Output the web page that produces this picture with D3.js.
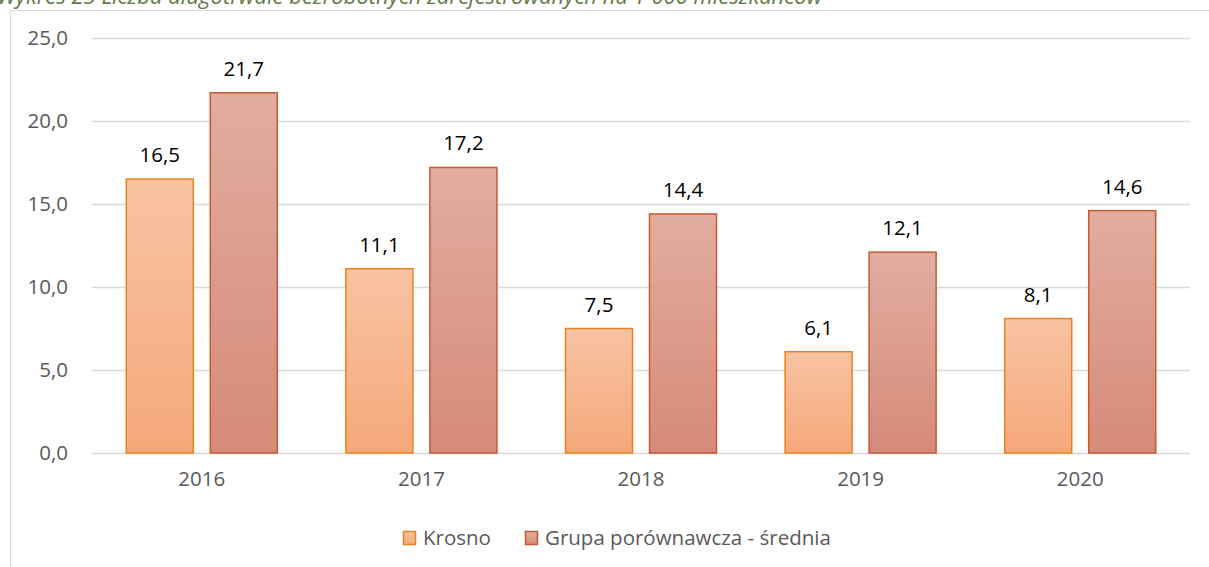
<!DOCTYPE html>
<html>
<head>
<meta charset="utf-8">
<script src="https://cdn.jsdelivr.net/npm/d3@7"></script>
<style>
  body { margin: 0; background: #fff; }
  svg { display: block; font-family: "Open Sans", sans-serif; }
</style>
</head>
<body>
<div id="chart"></div>
<script>
const years = ["2016", "2017", "2018", "2019", "2020"]
const seriesNames = ["Krosno", "Grupa porównawcza - średnia"]
const krosno = [16.5, 11.1, 7.5, 6.1, 8.1]
const grupa = [21.7, 17.2, 14.4, 12.1, 14.6]
const yTicks = [0, 5, 10, 15, 20, 25]
const title = "Wykres 23 Liczba długotrwale bezrobotnych zarejestrowanych na 1 000 mieszkańców"

const width = 1209, height = 567
const plot = {left: 92, right: 1190, top: 38, bottom: 453}
const fontSize = 20.5

const fills = [["#f8c3a3", "#f5a87a"], ["#e1ad9f", "#d68a79"]]
const strokes = ["#e8841f", "#c45a32"]

const fmt = v => d3.format(".1f")(v).replace(".", ",")

const svg = d3.select("#chart").append("svg")
    .attr("width", width)
    .attr("height", height)

const defs = svg.append("defs")
fills.forEach((c, i) => {
    const g = defs.append("linearGradient")
        .attr("id", "grad" + i)
        .attr("x1", 0).attr("y1", 0).attr("x2", 0).attr("y2", 1)
    g.append("stop").attr("offset", "0%").attr("stop-color", c[0])
    g.append("stop").attr("offset", "100%").attr("stop-color", c[1])
})

// chart frame (runs off the right and bottom of the picture)
svg.append("rect")
    .attr("x", 10.5).attr("y", 10.5)
    .attr("width", 1300).attr("height", 700)
    .attr("fill", "none")
    .attr("stroke", "#d9d9d9")

svg.append("text")
    .attr("x", -3).attr("y", 4)
    .attr("font-size", 22)
    .attr("font-style", "italic")
    .attr("fill", "#5f7a48")
    .text(title)

const x = d3.scaleBand()
    .domain(years)
    .range([plot.left, plot.right])
    .paddingInner(0).paddingOuter(0)

// two bars of 68px with a 16px gap, centred in each year band
const inner = d3.scaleBand()
    .domain([0, 1])
    .range([x.bandwidth() / 2 - 76, x.bandwidth() / 2 + 76])
    .paddingInner(16 / 84)

const y = d3.scaleLinear()
    .domain([0, 25])
    .range([plot.bottom, plot.top])

// gridlines
svg.append("g")
    .selectAll("line")
    .data(yTicks)
    .join("line")
    .attr("x1", plot.left).attr("x2", plot.right)
    .attr("y1", d => Math.round(y(d)) + 0.5)
    .attr("y2", d => Math.round(y(d)) + 0.5)
    .attr("stroke", "#d9d9d9")
    .attr("stroke-width", 1.5)

const yAxis = d3.axisLeft(y).tickValues(yTicks).tickFormat(fmt).tickSize(0).tickPadding(0)
svg.append("g")
    .attr("transform", "translate(68,0)")
    .call(yAxis)
    .call(g => g.select(".domain").remove())
    .call(g => g.selectAll("text")
        .attr("font-family", "Open Sans")
        .attr("font-size", fontSize)
        .attr("fill", "#595959"))

const xAxis = d3.axisBottom(x).tickSize(0).tickPadding(0)
svg.append("g")
    .attr("transform", "translate(0,471)")
    .call(xAxis)
    .call(g => g.select(".domain").remove())
    .call(g => g.selectAll("text")
        .attr("font-family", "Open Sans")
        .attr("font-size", fontSize)
        .attr("fill", "#595959"))

const rows = years.map((yr, i) => ({year: yr, values: [krosno[i], grupa[i]]}))

const groups = svg.append("g")
    .selectAll("g")
    .data(rows)
    .join("g")
    .attr("transform", d => "translate(" + x(d.year) + ",0)")

groups.selectAll("rect")
    .data(d => d.values.map((v, s) => ({v, s})))
    .join("rect")
    .attr("x", d => inner(d.s) + 0.5)
    .attr("y", d => y(d.v))
    .attr("width", inner.bandwidth() - 1)
    .attr("height", d => y(0) - y(d.v))
    .attr("fill", d => "url(#grad" + d.s + ")")
    .attr("stroke", d => strokes[d.s])
    .attr("stroke-width", 1.5)

groups.selectAll("text")
    .data(d => d.values.map((v, s) => ({v, s})))
    .join("text")
    .attr("x", d => inner(d.s) + inner.bandwidth() / 2)
    .attr("y", d => y(d.v) - 17)
    .attr("text-anchor", "middle")
    .attr("font-size", fontSize)
    .attr("fill", "#000")
    .text(d => fmt(d.v))

// legend
const legendX = [403, 525]
const legend = svg.append("g")
    .selectAll("g")
    .data(seriesNames)
    .join("g")
    .attr("transform", (d, i) => "translate(" + legendX[i] + ",531)")

legend.append("rect")
    .attr("x", 0.5).attr("y", 0.5)
    .attr("width", 12).attr("height", 13)
    .attr("fill", (d, i) => "url(#grad" + i + ")")
    .attr("stroke", (d, i) => strokes[i])
    .attr("stroke-width", 1.5)

legend.append("text")
    .attr("x", 20).attr("y", 14)
    .attr("font-size", fontSize)
    .attr("fill", "#595959")
    .text(d => d)
</script>
</body>
</html>
